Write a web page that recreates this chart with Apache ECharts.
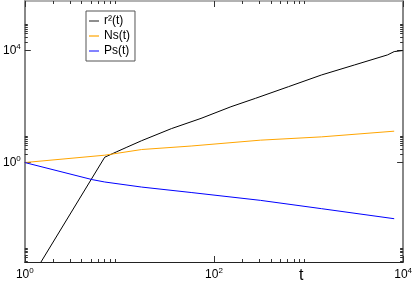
<!DOCTYPE html>
<html>
<head>
<meta charset="utf-8">
<script src="https://cdn.jsdelivr.net/npm/echarts@6/dist/echarts.min.js"></script>
<style>html,body{margin:0;padding:0;background:#fff}#c{width:415px;height:284px}</style>
</head>
<body>
<div id="c"></div>
<script>
// ---- data ----
var tR2 = [1, 7, 9.4, 12, 17.2, 35.5, 73, 151, 275, 614, 1374, 3069, 6855, 8050, 9840];
var r2  = [3.13e-5, 1.55, 2.44, 3.53, 6.04, 16.3, 37.8, 98.4, 197, 513, 1346, 3070, 7015, 9200, 10000];
var tNs = [1, 7, 17.2, 57.4, 310, 1374, 8050];
var ns  = [1, 1.83, 2.92, 3.89, 6.3, 8.27, 13.2];
var tPs = [1, 5.15, 7, 17.2, 57.4, 310, 1374, 8050];
var ps  = [1, 0.246, 0.202, 0.133, 0.085, 0.0446, 0.0225, 0.00985];
var xMajor = [1, 100, 10000];
var yMajor = [1e-4, 1, 1e4];
var seriesNames = ['r\u00b2(t)', 'Ns(t)', 'Ps(t)'];

function minors(majors) {
  var out = [];
  majors.forEach(function (m) { for (var k = 2; k <= 9; k++) out.push(m * k); });
  return out;
}
function pairs(a, b) { return a.map(function (v, i) { return [v, b[i]]; }); }
function expLabel(v) {
  var e = Math.round(Math.log10(v));
  return '{b|10}{s|' + e + '}';
}
var rich = { b: { fontSize: 12, fontFamily: 'Liberation Sans', color: '#000' },
             s: { fontSize: 8, fontFamily: 'Liberation Sans', color: '#000', verticalAlign: 'bottom', padding: [0, 0, 8, 0] } };

var xMin = 1, xMax = 10000, yMin = 2.8e-4, yMax = 5.9e5;
function xAx(pos, major, lineColor, lineWidth, showLabel) {
  return {
    type: 'log', logBase: 10, min: xMin, max: xMax, position: pos,
    axisLine: { show: !!lineColor, lineStyle: { color: lineColor || '#000', width: lineWidth || 1 } },
    axisTick: { inside: true, length: major ? 6 : 3, customValues: major ? xMajor : minors(xMajor), lineStyle: { color: '#333' } },
    axisLabel: showLabel ? { customValues: xMajor, formatter: expLabel, rich: rich, margin: 5 } : { show: false },
    splitLine: { show: false }, minorTick: { show: false }
  };
}
function yAx(pos, major, lineColor, lineWidth, showLabel) {
  return {
    type: 'log', logBase: 10, min: yMin, max: yMax, position: pos,
    axisLine: { show: !!lineColor, lineStyle: { color: lineColor || '#000', width: lineWidth || 1 } },
    axisTick: { inside: true, length: major ? 6 : 3, customValues: major ? yMajor : minors(yMajor), lineStyle: { color: '#333' } },
    axisLabel: showLabel ? { customValues: yMajor, formatter: expLabel, rich: rich, margin: 4 } : { show: false },
    splitLine: { show: false }, minorTick: { show: false }
  };
}

var chart = echarts.init(document.getElementById('c'), null, { renderer: 'canvas' });
chart.setOption({
  animation: false,
  backgroundColor: '#fff',
  grid: { left: 22, right: 11, top: 1, bottom: 22, containLabel: false },
  xAxis: [
    xAx('bottom', true, '#222', 1, true),
    xAx('bottom', false, null),
    xAx('top', true, '#999', 1.5, false),
    xAx('top', false, null)
  ],
  yAxis: [
    yAx('left', true, '#888', 2, true),
    yAx('left', false, null),
    yAx('right', true, '#888', 2, false),
    yAx('right', false, null)
  ],
  legend: {
    orient: 'vertical', left: 86, top: 11,
    padding: [4, 5, 4, 3], itemGap: 3, itemWidth: 10, itemHeight: 1.2,
    icon: 'rect',
    borderColor: '#555', borderWidth: 1, backgroundColor: '#fff',
    textStyle: { fontFamily: 'Liberation Sans', fontSize: 12, color: '#000', lineHeight: 12 },
    data: seriesNames
  },
  series: [
    { name: seriesNames[0], type: 'line', data: pairs(tR2, r2), symbol: 'none', lineStyle: { color: '#000', width: 1 }, itemStyle: { color: '#444' }, clip: true },
    { name: seriesNames[1], type: 'line', data: pairs(tNs, ns), symbol: 'none', lineStyle: { color: '#ffa500', width: 1 }, itemStyle: { color: '#ffa500' }, clip: true },
    { name: seriesNames[2], type: 'line', data: pairs(tPs, ps), symbol: 'none', lineStyle: { color: '#0000ff', width: 1 }, itemStyle: { color: '#3030ff' }, clip: true }
  ],
  graphic: [
    { type: 'text', left: 299, top: 268, style: { text: 't', fontSize: 16, fontFamily: 'Liberation Sans', fill: '#000' } }
  ]
});
</script>
</body>
</html>
